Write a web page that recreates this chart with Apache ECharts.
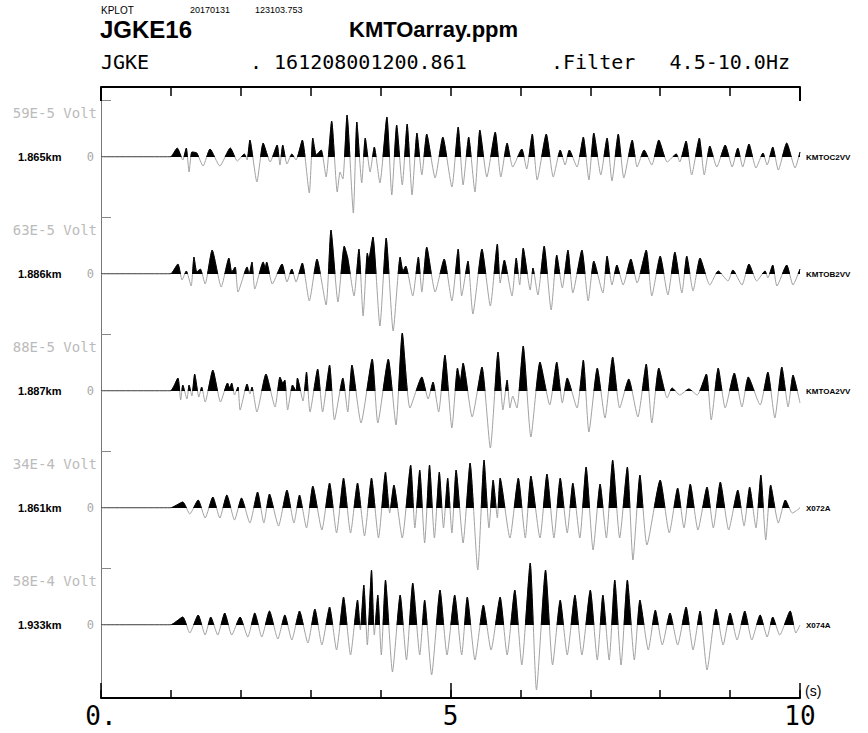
<!DOCTYPE html>
<html>
<head>
<meta charset="utf-8">
<script src="https://cdn.jsdelivr.net/npm/echarts@6/dist/echarts.min.js"></script>
<style>
  html, body { margin: 0; padding: 0; background: #fff; }
  #chart { width: 868px; height: 733px; }
</style>
</head>
<body>
<div id="chart"></div>
<script>
// Waveforms as [time (s), amplitude] at successive extrema of each trace.
const kmtoc2 = [[0,0],[0.99,0],[1.09,9],[1.17,-3],[1.22,9],[1.26,-15],[1.30,5],[1.37,4],[1.46,-9],[1.56,8],[1.70,-9],[1.85,9],[1.95,-4],[2.05,3],[2.09,-3],[2.13,17],[2.23,-25],[2.32,14],[2.42,-5],[2.52,12],[2.56,-8],[2.60,12],[2.66,-7],[2.73,3],[2.79,-3],[2.88,17],[2.98,-36],[3.03,19],[3.08,2],[3.15,7],[3.22,-20],[3.30,36],[3.38,-35],[3.42,-15],[3.46,-22],[3.52,42],[3.61,-56],[3.66,35],[3.73,-26],[3.78,19],[3.85,-15],[3.91,10],[3.99,-26],[4.09,40],[4.16,-38],[4.23,32],[4.31,-28],[4.38,33],[4.45,-38],[4.52,24],[4.59,-18],[4.66,23],[4.78,-21],[4.89,20],[5.02,-30],[5.11,30],[5.18,-28],[5.26,20],[5.35,-35],[5.42,27],[5.52,-20],[5.64,25],[5.72,-20],[5.81,14],[5.89,-10],[6.02,8],[6.09,-12],[6.17,23],[6.24,-23],[6.37,23],[6.47,-20],[6.57,7],[6.64,-8],[6.70,7],[6.81,-10],[6.90,20],[6.98,-23],[7.05,24],[7.15,-18],[7.24,19],[7.31,-24],[7.40,23],[7.48,-21],[7.60,17],[7.67,-10],[7.77,7],[7.88,-8],[7.98,17],[8.10,-5],[8.23,3],[8.28,-5],[8.37,16],[8.45,-18],[8.56,19],[8.63,-18],[8.71,11],[8.81,-10],[8.93,12],[9.03,-10],[9.11,9],[9.18,-10],[9.27,13],[9.37,-11],[9.47,4],[9.53,-8],[9.61,10],[9.69,-13],[9.81,14],[9.93,-11],[10.0,5]];

const kmtob2 = [[0,0],[0.99,0],[1.10,10],[1.16,-6],[1.22,3],[1.29,-12],[1.33,17],[1.37,2],[1.42,5],[1.49,-10],[1.59,24],[1.72,-13],[1.83,16],[1.87,2],[1.92,7],[1.96,-18],[2.09,7],[2.12,0],[2.16,12],[2.20,-15],[2.32,12],[2.35,6],[2.37,12],[2.45,-10],[2.59,10],[2.66,-8],[2.73,5],[2.79,-8],[2.88,11],[2.98,-27],[3.09,15],[3.22,-31],[3.29,44],[3.39,-28],[3.48,28],[3.53,16],[3.62,-22],[3.69,25],[3.75,-42],[3.81,21],[3.83,15],[3.89,37],[3.99,-52],[4.08,36],[4.18,-57],[4.28,17],[4.32,3],[4.36,8],[4.46,-22],[4.54,17],[4.59,-18],[4.66,27],[4.78,-18],[4.91,15],[5.02,-27],[5.11,25],[5.16,-22],[5.25,13],[5.32,-40],[5.45,25],[5.57,-32],[5.67,30],[5.71,-9],[5.77,14],[5.88,-22],[5.94,16],[5.99,-11],[6.04,26],[6.14,-16],[6.18,6],[6.25,-21],[6.34,28],[6.44,-36],[6.52,19],[6.60,-14],[6.68,24],[6.75,-19],[6.88,24],[6.97,-27],[7.05,13],[7.18,-19],[7.24,18],[7.31,-11],[7.38,9],[7.47,-11],[7.58,15],[7.67,-9],[7.80,24],[7.88,-22],[8.00,18],[8.11,-21],[8.21,22],[8.31,-19],[8.38,18],[8.47,-17],[8.57,16],[8.71,-11],[8.83,3],[8.97,-7],[9.04,4],[9.17,-11],[9.27,10],[9.38,-7],[9.50,3],[9.54,-4],[9.61,9],[9.67,-12],[9.81,9],[9.90,-11],[10.0,5]];

const kmtoa2 = [[0,0],[0.99,0],[1.10,13],[1.14,-9],[1.17,6],[1.23,-8],[1.26,6],[1.30,-5],[1.34,17],[1.40,-6],[1.44,4],[1.49,-11],[1.60,21],[1.71,-11],[1.81,8],[1.84,3],[1.87,8],[1.91,-4],[1.96,4],[1.99,-19],[2.09,7],[2.13,-3],[2.16,4],[2.23,-21],[2.36,17],[2.49,-16],[2.56,14],[2.60,8],[2.63,11],[2.67,-19],[2.74,6],[2.79,0],[2.81,13],[2.89,-10],[2.94,19],[2.99,-21],[3.10,22],[3.17,-21],[3.27,26],[3.34,-29],[3.46,13],[3.53,-21],[3.59,26],[3.72,-32],[3.88,32],[3.96,-32],[4.11,32],[4.22,-34],[4.31,58],[4.42,-17],[4.59,14],[4.68,-8],[4.75,9],[4.83,-21],[4.92,36],[5.02,-37],[5.10,23],[5.14,10],[5.18,28],[5.31,-26],[5.45,24],[5.57,-57],[5.68,39],[5.75,-19],[5.81,11],[5.85,-17],[5.89,-5],[5.95,-17],[6.04,45],[6.15,-46],[6.28,29],[6.42,-14],[6.52,29],[6.60,-12],[6.67,13],[6.81,-17],[6.90,31],[6.98,-41],[7.10,23],[7.21,-27],[7.32,34],[7.42,-17],[7.55,12],[7.68,-26],[7.80,27],[7.88,-32],[7.98,23],[8.10,-7],[8.17,3],[8.28,-4],[8.41,2],[8.53,-4],[8.66,17],[8.73,-29],[8.83,23],[8.93,-17],[9.06,18],[9.17,-16],[9.26,14],[9.43,-14],[9.54,19],[9.64,-27],[9.74,24],[9.83,-16],[9.90,16],[10.0,-12]];

const x072a = [[0,0],[0.99,0],[1.17,6],[1.27,-6],[1.39,8],[1.49,-10],[1.60,11],[1.70,-10],[1.80,13],[1.91,-12],[2.01,10],[2.13,-15],[2.24,16],[2.33,-15],[2.41,14],[2.54,-18],[2.66,18],[2.76,-15],[2.84,13],[2.94,-20],[3.03,22],[3.16,-22],[3.27,25],[3.37,-25],[3.47,30],[3.57,-25],[3.67,25],[3.77,-28],[3.87,30],[3.97,-30],[4.07,36],[4.13,-5],[4.19,23],[4.31,-30],[4.43,43],[4.49,-20],[4.56,38],[4.63,-35],[4.70,43],[4.77,-30],[4.84,36],[4.90,-20],[4.96,30],[5.02,-25],[5.08,38],[5.18,-35],[5.28,45],[5.39,-62],[5.48,48],[5.55,-20],[5.61,28],[5.67,-10],[5.71,30],[5.85,-30],[5.97,30],[6.07,-30],[6.15,32],[6.28,-30],[6.38,34],[6.48,-30],[6.57,30],[6.67,-25],[6.75,25],[6.85,-30],[6.94,41],[7.04,-42],[7.14,24],[7.23,-30],[7.32,48],[7.42,-30],[7.53,41],[7.61,-52],[7.71,33],[7.81,-37],[8.00,28],[8.13,-25],[8.25,20],[8.34,-20],[8.43,24],[8.54,-22],[8.67,21],[8.76,-20],[8.86,26],[8.98,-22],[9.11,18],[9.20,-18],[9.28,21],[9.37,-20],[9.44,33],[9.51,-32],[9.58,23],[9.69,-15],[9.79,8],[9.89,-5],[10.0,0]];

const x074a = [[0,0],[0.99,0],[1.17,8],[1.27,-8],[1.39,10],[1.49,-10],[1.57,8],[1.67,-10],[1.77,12],[1.87,-10],[1.99,8],[2.10,-12],[2.20,12],[2.30,-12],[2.41,14],[2.53,-14],[2.63,10],[2.73,-15],[2.84,14],[2.96,-18],[3.06,16],[3.16,-20],[3.27,18],[3.37,-25],[3.47,28],[3.57,-30],[3.67,25],[3.71,-5],[3.76,40],[3.81,-20],[3.87,55],[3.91,-10],[3.96,30],[4.01,-30],[4.07,45],[4.17,-47],[4.28,30],[4.37,-35],[4.46,42],[4.56,-30],[4.63,25],[4.73,-50],[4.85,35],[4.95,-30],[5.06,30],[5.16,-30],[5.24,28],[5.35,-35],[5.47,20],[5.58,-25],[5.71,28],[5.81,-30],[5.92,35],[6.02,-40],[6.14,62],[6.23,-65],[6.36,55],[6.46,-40],[6.57,25],[6.67,-30],[6.78,30],[6.88,-30],[7.00,35],[7.10,-35],[7.18,30],[7.27,-35],[7.35,45],[7.44,-40],[7.53,45],[7.63,-35],[7.71,25],[7.83,-25],[7.93,15],[8.03,-20],[8.14,12],[8.25,-20],[8.37,18],[8.47,-25],[8.57,14],[8.67,-45],[8.80,16],[8.90,-20],[9.00,12],[9.10,-15],[9.21,14],[9.31,-15],[9.43,10],[9.53,-12],[9.61,8],[9.71,-10],[9.86,14],[9.94,-8],[10.0,0]];

const traces = [kmtoc2, kmtob2, kmtoa2, x072a, x074a];
const stations = ['KMTOC2VV', 'KMTOB2VV', 'KMTOA2VV', 'X072A', 'X074A'];
const distances = ['1.865km', '1.886km', '1.887km', '1.861km', '1.933km'];
const scaleLabels = ['59E-5 Volt', '63E-5 Volt', '88E-5 Volt', '34E-4 Volt', '58E-4 Volt'];
const timeTickValues = [0, 5, 10];
const timeTickLabels = ['0.', '5', '10'];

// Layout (pixels)
const PLOT_LEFT = 101, PLOT_RIGHT = 800, FRAME_TOP = 87, FRAME_BOTTOM = 698;
const BASELINES = [157, 274, 391, 508, 625];
const HALF = 75;       // half height of each trace band, in amplitude units (1 unit = 1 px)
const SCALE_MARK = 57; // amplitude of the full-scale mark on the left axis
const SMOOTH = 0.18;

const W = 868, H = 733;
const MONO = 'DejaVu Sans Mono';
const SANS = 'Liberation Sans';

const chart = echarts.init(document.getElementById('chart'), null, { renderer: 'svg', width: W, height: H });

// black above the zero line of a band, transparent below it
function positiveFill(baseline) {
  const mid = 0.5; // zero sits in the middle of the symmetric [-HALF, HALF] band
  return {
    type: 'linear', global: true, x: 0, y: baseline - HALF, x2: 0, y2: baseline + HALF,
    colorStops: [
      { offset: 0, color: '#000' }, { offset: mid, color: '#000' },
      { offset: mid, color: 'rgba(0,0,0,0)' }, { offset: 1, color: 'rgba(0,0,0,0)' }
    ]
  };
}

const grids = [{ left: PLOT_LEFT, right: W - PLOT_RIGHT, top: FRAME_TOP, bottom: H - FRAME_BOTTOM }];
const xAxes = [
  { // bottom time axis with labels
    gridIndex: 0, type: 'value', position: 'bottom', min: 0, max: 10, interval: 1,
    axisLine: { show: true, lineStyle: { color: '#000', width: 2 } },
    axisTick: { show: true, inside: true, length: 8, lineStyle: { color: '#000', width: 1.5 } },
    axisLabel: {
      show: true, margin: 5, color: '#000', fontFamily: MONO, fontSize: 26,
      formatter: v => { const k = timeTickValues.indexOf(v); return k >= 0 ? timeTickLabels[k] : ''; }
    },
    splitLine: { show: false },
    name: '(s)', nameLocation: 'end', nameGap: 5,
    nameTextStyle: { fontFamily: SANS, fontSize: 14, color: '#000', verticalAlign: 'bottom' }
  },
  { // bottom major ticks
    gridIndex: 0, type: 'value', position: 'bottom', min: 0, max: 10, interval: 5,
    axisLine: { show: false }, axisLabel: { show: false }, splitLine: { show: false },
    axisTick: { show: true, inside: true, length: 15, lineStyle: { color: '#000', width: 1.5 } }
  },
  { // top frame
    gridIndex: 0, type: 'value', position: 'top', min: 0, max: 10, interval: 1,
    axisLine: { show: true, lineStyle: { color: '#000', width: 2 } },
    axisTick: { show: true, inside: true, length: 9, lineStyle: { color: '#000', width: 1.5 } },
    axisLabel: { show: false }, splitLine: { show: false }
  },
  { // top frame corners
    gridIndex: 0, type: 'value', position: 'top', min: 0, max: 10, interval: 10,
    axisLine: { show: false }, axisLabel: { show: false }, splitLine: { show: false },
    axisTick: { show: true, inside: true, length: 14, lineStyle: { color: '#000', width: 2 } }
  }
];
const yAxes = [{
  gridIndex: 0, type: 'value', min: 0, max: 1, position: 'left',
  axisLine: { show: true, lineStyle: { color: '#777', width: 1 } },
  axisTick: { show: false }, axisLabel: { show: false }, splitLine: { show: false }
}];

const series = [];
traces.forEach((tr, i) => {
  grids.push({ left: PLOT_LEFT, right: W - PLOT_RIGHT, top: BASELINES[i] - HALF, height: 2 * HALF });
  xAxes.push({ gridIndex: i + 1, type: 'value', min: 0, max: 10, show: false });
  yAxes.push({
    gridIndex: i + 1, type: 'value', min: -HALF, max: HALF, position: 'left', offset: 5,
    axisLine: { show: false }, splitLine: { show: false },
    axisTick: { show: true, inside: true, length: 10, customValues: [SCALE_MARK], lineStyle: { color: '#888', width: 1 } },
    axisLabel: { show: true, customValues: [0], formatter: () => '0', margin: 2, color: '#aaa', fontFamily: MONO, fontSize: 12 }
  });
  // full trace, thin gray
  series.push({
    type: 'line', xAxisIndex: i + 4, yAxisIndex: i + 1, data: tr,
    showSymbol: false, smooth: SMOOTH, z: 2, silent: true,
    lineStyle: { color: '#a2a2a2', width: 1 }
  });
  // positive half filled black
  const fill = positiveFill(BASELINES[i]);
  series.push({
    type: 'line', xAxisIndex: i + 4, yAxisIndex: i + 1, data: tr,
    showSymbol: false, smooth: SMOOTH, z: 3, silent: true,
    lineStyle: { width: 1, color: fill }, areaStyle: { opacity: 1, color: fill }
  });
});

const graphic = [];
function txt(text, x, y, style) {
  graphic.push({ type: 'text', x, y, silent: true,
    style: Object.assign({ text, fill: '#000', align: 'left', verticalAlign: 'middle', fontFamily: SANS, fontSize: 10 }, style) });
}
// header
txt('KPLOT', 101, 10, { fontSize: 10 });
txt('20170131', 190, 10, { fontSize: 9 });
txt('123103.753', 255, 10, { fontSize: 9 });
txt('JGKE16', 100, 29, { fontSize: 24, fontWeight: 'bold' });
txt('KMTOarray.ppm', 349, 29, { fontSize: 22, fontWeight: 'bold' });
txt('JGKE', 101, 62, { fontFamily: MONO, fontSize: 20 });
txt('. 161208001200.861', 250, 62, { fontFamily: MONO, fontSize: 20 });
txt('.Filter', 551, 62, { fontFamily: MONO, fontSize: 20 });
txt('4.5-10.0Hz', 790, 62, { fontFamily: MONO, fontSize: 20, align: 'right' });
// per-trace labels
BASELINES.forEach((b, i) => {
  txt(scaleLabels[i], 97, b - 44, { fontFamily: MONO, fontSize: 14, fill: '#bbb', align: 'right' });
  txt(distances[i], 18, b, { fontSize: 11, fontWeight: 'bold' });
  txt(stations[i], 806, b, { fontSize: 8, fontWeight: 'bold' });
});

chart.setOption({
  animation: false,
  backgroundColor: '#fff',
  grid: grids,
  xAxis: xAxes,
  yAxis: yAxes,
  series,
  graphic
});
</script>
</body>
</html>
